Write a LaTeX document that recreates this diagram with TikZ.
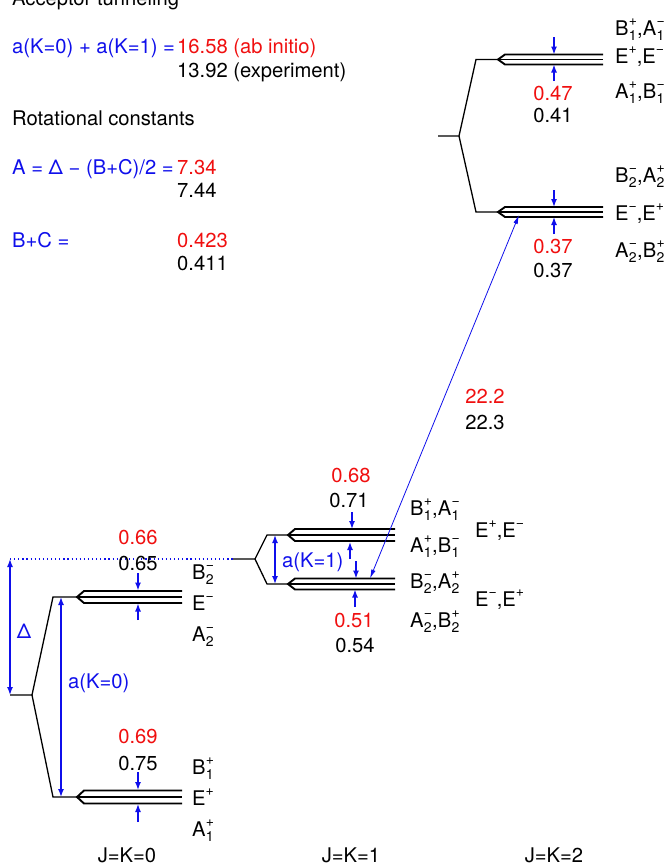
\documentclass[tikz,border=0pt]{standalone}
\usepackage{fontspec}
\setmainfont{TeX Gyre Heros}
\usetikzlibrary{arrows.meta}
\definecolor{mblue}{RGB}{15,15,235}
\definecolor{mred}{RGB}{240,15,15}
\newcommand\subsz{\fontsize{14}{14}\selectfont}
\newcommand\irr[3]{#1\kern0.3pt\makebox[0pt][l]{\raisebox{-5pt}{\subsz #2}}\raisebox{10pt}{\subsz #3}}
\newcommand\tri[4]{%
  \draw[trl] (#2,#3-#4) -- (#1+7,#3-#4) -- (#1,#3) -- (#1+7,#3+#4) -- (#2,#3+#4);
  \draw[trl] (#1,#3) -- (#2,#3);}
\tikzset{
  txt/.style={inner sep=0pt, font=\fontsize{20.2}{24}\selectfont},
  trl/.style={black, line width=1.9pt, line join=miter},
  stem/.style={black, line width=1.3pt},
  mk/.style={mblue, line width=1.4pt, -{Latex[length=8pt,width=6pt]}},
  dbl/.style={mblue, line width=1.4pt, {Latex[length=8pt,width=6pt]}-{Latex[length=8pt,width=6pt]}},
  trans/.style={mblue, line width=0.8pt, {Latex[length=9pt,width=4.5pt]}-{Latex[length=9pt,width=4.5pt]}},
  dots/.style={mblue, line width=1.2pt, dash pattern=on 1.2pt off 2.9pt},
}
\begin{document}
\begin{tikzpicture}[x=1pt,y=-1pt]
\useasboundingbox (0,0) rectangle (668,865);

% ---------- header texts ----------
\node[txt,anchor=base west] (title) at (12,5) {Acceptor tunneling};
\node[txt,anchor=base west,text=mblue] (tunlhs) at (12,53) {a(K=0) + a(K=1) =};
\node[txt,anchor=base west,text=mred] (tunai) at (177,53) {16.58 (ab initio)};
\node[txt,anchor=base west] (tunex) at (177,77) {13.92 (experiment)};
\node[txt,anchor=base west] (rot) at (12,125) {Rotational constants};
\node[txt,anchor=base west,text=mblue] (alhs) at (12,174) {A = Δ − (B+C)/2 =};
\node[txt,anchor=base west,text=mred] (aai) at (177,174) {7.34};
\node[txt,anchor=base west] (aex) at (177,197) {7.44};
\node[txt,anchor=base west,text=mblue] (bclhs) at (12,247) {B+C =};
\node[txt,anchor=base west,text=mred] (bcai) at (177,247) {0.423};
\node[txt,anchor=base west] (bcex) at (177,270) {0.411};

% ---------- J=K=2 ----------
\coordinate (s2a) at (438,136);
\coordinate (s2b) at (459,136);
\coordinate (s2u) at (476,59.5);
\coordinate (s2ue) at (498,59.5);
\coordinate (s2l) at (476,212);
\coordinate (s2le) at (498,212);
\draw[stem] (s2a) -- (s2b) -- (s2u) -- (s2ue);
\draw[stem] (s2b) -- (s2l) -- (s2le);
\tri{498}{603}{59.5}{5}
\tri{498}{603}{212}{5}
\draw[mk] (554,37) -- (554,54.5);
\draw[mk] (554,81) -- (554,64.5);
\draw[mk] (554,190) -- (554,207);
\draw[mk] (554,234) -- (554,217);
\node[txt,anchor=base,text=mred] (v2a) at (553,100) {0.47};
\node[txt,anchor=base] (v2b) at (553,122) {0.41};
\node[txt,anchor=base,text=mred] (v2c) at (553,253) {0.37};
\node[txt,anchor=base] (v2d) at (553,277) {0.37};
\node[txt,anchor=base west] (l2a) at (615,35) {\irr{B}{1}{+},\irr{A}{1}{−}};
\node[txt,anchor=base west] (l2b) at (615,63) {E\raisebox{10pt}{\subsz +},E\raisebox{10pt}{\subsz −}};
\node[txt,anchor=base west] (l2c) at (615,98) {\irr{A}{1}{+},\irr{B}{1}{−}};
\node[txt,anchor=base west] (l2d) at (615,182) {\irr{B}{2}{−},\irr{A}{2}{+}};
\node[txt,anchor=base west] (l2e) at (615,220) {E\raisebox{10pt}{\subsz −},E\raisebox{10pt}{\subsz +}};
\node[txt,anchor=base west] (l2f) at (615,257) {\irr{A}{2}{−},\irr{B}{2}{+}};

% ---------- J=K=1 ----------
\coordinate (d0) at (10,559);
\coordinate (s1a) at (233,559);
\coordinate (s1b) at (255,559);
\coordinate (s1u) at (267,535);
\coordinate (s1ue) at (288,535);
\coordinate (s1l) at (267,584);
\coordinate (s1le) at (288,584);
\draw[dots] (d0) -- (s1a);
\draw[stem] (s1a) -- (s1b) -- (s1u) -- (s1ue);
\draw[stem] (s1b) -- (s1l) -- (s1le);
\tri{288}{395}{535}{6}
\tri{288}{395}{584}{5.5}
\draw[dbl] (275,535) -- (275,584);
\node[txt,anchor=base west,text=mblue] (ak1) at (282,567) {a(K=1)};
\draw[mk] (352,512) -- (352,529);
\draw[mk] (350,559) -- (350,542);
\draw[mk] (356,561) -- (356,578.5);
\draw[mk] (355,607) -- (355,589.5);
\node[txt,anchor=base,text=mred] (v1a) at (351,482) {0.68};
\node[txt,anchor=base] (v1b) at (349,507) {0.71};
\node[txt,anchor=base,text=mred] (v1c) at (354,627) {0.51};
\node[txt,anchor=base] (v1d) at (355,652) {0.54};
\node[txt,anchor=base west] (l1a) at (410,515) {\irr{B}{1}{+},\irr{A}{1}{−}};
\node[txt,anchor=base west] (l1b) at (410,552) {\irr{A}{1}{+},\irr{B}{1}{−}};
\node[txt,anchor=base west] (l1c) at (410,588) {\irr{B}{2}{−},\irr{A}{2}{+}};
\node[txt,anchor=base west] (l1d) at (410,627) {\irr{A}{2}{−},\irr{B}{2}{+}};
\node[txt,anchor=base west] (l1e) at (475,537) {E\raisebox{10pt}{\subsz +},E\raisebox{10pt}{\subsz −}};
\node[txt,anchor=base west] (l1f) at (475,606) {E\raisebox{10pt}{\subsz −},E\raisebox{10pt}{\subsz +}};

% ---------- transition ----------
\coordinate (t1) at (370,578.5);
\coordinate (t2) at (519,215);
\draw[trans] (t1) -- (t2);
\node[txt,anchor=base,text=mred] (tr1) at (485,403) {22.2};
\node[txt,anchor=base] (tr2) at (485,429) {22.3};

% ---------- J=K=0 ----------
\coordinate (s0a) at (10,695);
\coordinate (s0b) at (32,695);
\coordinate (s0u) at (53,597);
\coordinate (s0ue) at (77,597);
\coordinate (s0l) at (53,797);
\coordinate (s0le) at (77,797);
\draw[stem] (s0a) -- (s0b) -- (s0u) -- (s0ue);
\draw[stem] (s0b) -- (s0l) -- (s0le);
\tri{77}{182}{597}{6}
\tri{77}{182}{797}{6.5}
\draw[dbl] (d0) -- (s0a);
\node[txt,anchor=base,text=mblue] (dl) at (24,638) {Δ};
\draw[dbl] (61,597) -- (61,797);
\node[txt,anchor=base west,text=mblue] (ak0) at (68,688) {a(K=0)};
\draw[mk] (138,573) -- (138,590.5);
\draw[mk] (138,620) -- (138,603.5);
\draw[mk] (138,772) -- (138,790);
\draw[mk] (138,822) -- (138,804);
\node[txt,anchor=base,text=mred] (v0a) at (138,544) {0.66};
\node[txt,anchor=base] (v0b) at (138,570) {0.65};
\node[txt,anchor=base,text=mred] (v0c) at (138,743) {0.69};
\node[txt,anchor=base] (v0d) at (138,770) {0.75};
\node[txt,anchor=base west] (l0a) at (192,579) {\irr{B}{2}{−}};
\node[txt,anchor=base west] (l0b) at (192,610) {E\raisebox{10pt}{\subsz −}};
\node[txt,anchor=base west] (l0c) at (192,641) {\irr{A}{2}{−}};
\node[txt,anchor=base west] (l0d) at (192,774) {\irr{B}{1}{+}};
\node[txt,anchor=base west] (l0e) at (192,805) {E\raisebox{10pt}{\subsz +}};
\node[txt,anchor=base west] (l0f) at (192,836) {\irr{A}{1}{+}};

% ---------- column labels ----------
\node[txt,anchor=base] (j0) at (127,862) {J=K=0};
\node[txt,anchor=base] (j1) at (351,862) {J=K=1};
\node[txt,anchor=base] (j2) at (554,862) {J=K=2};
\end{tikzpicture}
\end{document}
